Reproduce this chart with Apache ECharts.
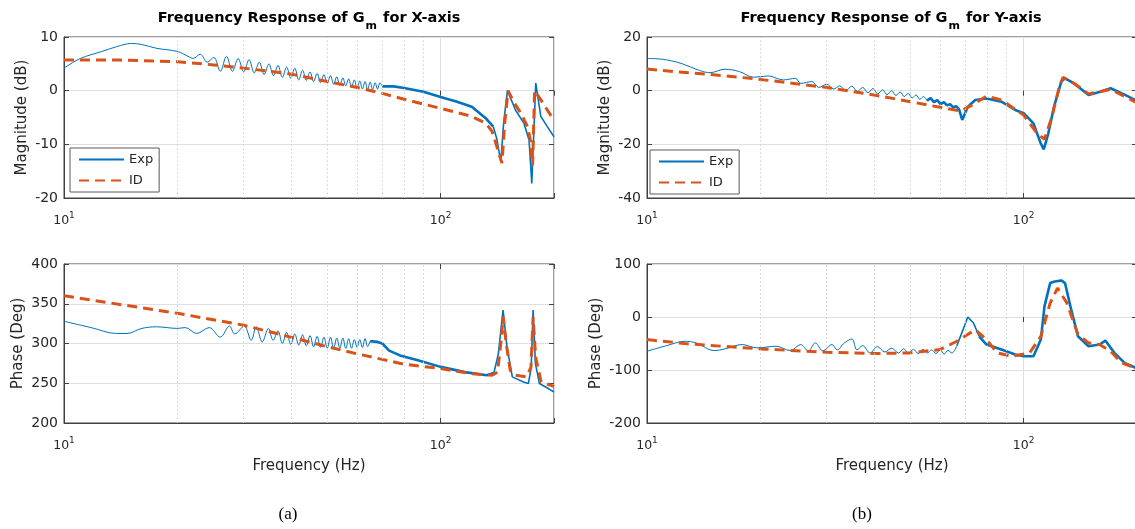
<!DOCTYPE html>
<html><head><meta charset="utf-8">
<script src="https://cdn.jsdelivr.net/npm/echarts@6/dist/echarts.min.js"></script>
<style>html,body{margin:0;padding:0;background:#fff}#c{width:1135px;height:529px}</style>
</head><body><div id="c"></div>
<script>
// ===== X-axis magnitude (dB) =====
// Exp: low-frequency part (thin, oscillating)
const expMagX_f = [10, 11.05, 12.6, 13.8, 15.1, 16.1, 17.6, 20, 21.5, 22, 23, 24, 25, 26, 27, 28, 29, 30, 31, 32, 33, 34, 35, 36, 37, 38, 39, 40, 41, 42, 43, 44, 45, 46, 47, 48, 49, 50, 51, 52, 53, 54, 55, 56, 57, 58, 59, 60, 61, 62, 63, 64, 65, 66, 67, 68, 69, 70];
const expMagX_v = [4.2, 6.0, 7.3, 8.2, 8.8, 8.6, 7.9, 7.3, 6.3, 6.0, 6.8, 5.3, 6.2, 3.6, 6.4, 3.6, 6.0, 3.5, 5.8, 3.3, 5.3, 3.0, 5.0, 2.8, 4.7, 2.5, 4.4, 2.3, 4.2, 2.0, 3.8, 1.9, 3.5, 1.7, 3.2, 1.5, 3.0, 1.4, 2.8, 1.2, 2.6, 1.0, 2.4, 0.9, 2.2, 0.6, 2.0, 0.4, 1.8, 0.3, 1.7, 0.2, 1.6, 0.2, 1.5, 0.3, 1.5, 0.8];
// Exp: noisy band
const expMagXb_f = [70, 75, 80, 90, 100, 110, 121, 132, 138];
const expMagXb_v = [0.8, 0.8, 0.5, -0.2, -1.2, -2.0, -3.0, -5.2, -6.7];
// Exp: resonances
const expMagXr_f = [138, 141, 143, 144.5, 147, 150.5, 158, 166.5, 171.7, 174.6, 178.9, 184.5, 192, 200];
const expMagXr_v = [-6.7, -9.0, -11.5, -13.2, -6.0, 0.0, -3.6, -6.1, -9.2, -17.3, 1.4, -4.8, -6.7, -8.6];
// ID
const idMagX_f = [10, 14.1, 20, 25, 30, 40, 50, 60, 70, 80, 100, 121, 132, 137, 141, 145.5, 148, 151, 157.3, 163.3, 170.1, 173.1, 175.5, 177.6, 184.5, 192, 200];
const idMagX_v = [5.7, 5.7, 5.4, 4.8, 4.2, 3.1, 1.7, 0.6, -0.5, -1.6, -3.3, -4.8, -6.1, -7.6, -10.4, -13.5, -6, 0, -2.4, -4.2, -6.7, -9.2, -13.9, 0, -1.7, -3.6, -5.5];

// ===== X-axis phase (deg) =====
const expPhX_f = [10, 11.8, 13.8, 14.7, 16.1, 17.6, 20, 21, 22.5, 24.3, 26, 27.5, 28.4, 30.1, 31.4, 32.4, 33.6, 34.9, 35.9, 37, 38, 39, 40, 41, 42, 43, 44, 45, 46, 47, 48, 49, 50, 51, 52, 53, 54, 55, 56, 57, 58, 59, 60, 61, 62, 63, 64, 65];
const expPhX_v = [328, 320, 312.6, 312.6, 319, 321, 319, 320, 312.6, 320, 308, 322, 312, 322, 304, 321, 302, 319, 304, 316, 300, 314, 299, 312, 298, 311, 297, 310, 296, 309, 295, 308, 294, 308, 294, 307, 294, 307, 294, 306, 294, 305, 295, 305, 295, 306, 296, 303];
const expPhXb_f = [65, 68, 70, 73, 78, 87, 100, 116, 132.5, 138.5];
const expPhXb_v = [303, 302, 300, 291, 285, 279, 270.6, 264, 260, 263];
const expPhXr_f = [138.5, 142.3, 146.5, 150, 155, 166, 171, 174, 176, 178.5, 183, 193.6, 200];
const expPhXr_v = [263, 287, 342, 296, 258, 251.7, 249.6, 270, 342, 275, 249.6, 243, 239];
const idPhX_f = [10, 20, 30, 40, 50, 60, 70, 80, 100, 121, 137, 141.6, 144.8, 146.5, 149.3, 153.1, 158, 169, 173.7, 176, 178.8, 184.9, 200];
const idPhX_v = [360, 338, 323, 308, 296, 287, 280, 274, 268.5, 262, 260, 264, 304, 334, 300, 266, 260, 258, 270, 333.6, 283, 251.7, 246];

// ===== Y-axis magnitude (dB) =====
const expMagY_f = [10, 11.0, 12.3, 13.8, 14.7, 16.1, 17.6, 19.2, 21.0, 23.0, 24.8, 25.6, 27.4, 28.6, 30, 31.3, 32.5, 33.7, 35.0, 36.2, 37.4, 38.6, 39.8, 41, 42.2, 43.4, 44.6, 45.8, 47, 48.2, 49.4, 50.6, 51.8, 53, 54.2, 55.4];
const expMagY_v = [12.0, 11.7, 10.2, 7.5, 6.7, 8.0, 7.1, 5.0, 5.5, 4.0, 4.6, 2.7, 3.4, 1.2, 2.4, 0.6, 1.8, 0.0, 1.7, -0.3, 1.2, -0.8, 0.8, -1.2, 0.3, -1.5, 0.0, -1.8, -0.5, -2.2, -1.0, -2.7, -1.6, -3.2, -2.2, -3.7];
const expMagYb_f = [55.4, 56.6, 57.8, 59, 60.2, 61.4, 62.6, 63.8, 65, 66.2, 67.4, 68.7, 71.1, 74.4, 79.7, 87.3, 95, 100, 106.2, 111, 113.1, 116.3, 120.4, 125.9, 128.8, 136.2, 148.7, 159, 170.2, 185.3, 200];
const expMagYb_v = [-3.7, -2.8, -4.3, -3.5, -5.0, -4.3, -5.5, -5.0, -6.2, -5.8, -7.0, -10.9, -6.0, -3.5, -2.9, -4.1, -7.2, -8.4, -12.2, -19.6, -21.9, -15.9, -6.0, 3.4, 4.6, 2.7, -1.6, -0.5, 0.9, -1.5, -3.8];
const expMagYr_f = [];
const expMagYr_v = [];
const idMagY_f = [10, 11.8, 14.4, 20, 30, 40, 50, 60, 68.2, 74.4, 79.7, 87.3, 100, 108.6, 113.6, 118.9, 124.4, 127.3, 136.2, 148.7, 159.2, 170.2, 182, 200];
const idMagY_v = [8.1, 7.1, 6.2, 4.2, 1.2, -1.6, -4.1, -6.2, -7.6, -4.7, -2.0, -3.5, -9.1, -15.9, -18.1, -9.7, 1.5, 5.0, 2.7, -1.2, -0.4, 0.5, -1.6, -4.5];

// ===== Y-axis phase (deg) =====
const expPhY_f = [10, 11.3, 12.6, 13.5, 15.1, 16.1, 17.9, 19.6, 22, 24.0, 25.6, 26.8, 28.0, 29.3, 31.0, 32.0, 33.4, 35.0, 36.1, 37.4, 39.1, 40.9, 42.8, 44.6, 46.6, 48, 49.5, 51, 52.5, 54, 55.5, 57, 58.5, 60, 61.5, 63, 64.5, 66.5];
const expPhY_v = [-64.6, -53.9, -45.8, -48.9, -63.3, -60.2, -52.0, -58.3, -55.2, -63.3, -52, -64, -48.9, -64, -52, -62, -49, -41.4, -62, -54, -68, -56, -66, -59, -68, -60, -68, -61, -69, -61, -68, -62, -69, -62, -70, -63, -68, -54];
const expPhYr_f = [66.5, 69.6, 71.1, 73.6, 76.2];
const expPhYr_v = [-54, -17.6, 0, -11.3, -36.4];
const expPhYb_f = [76.2, 79.7, 87.3, 95, 100, 106.2, 111.1, 113.6, 117.6, 121, 125.9, 128.8, 133.1, 139.4, 148.7, 159.2, 164.8, 174.2, 185.3, 200];
const expPhYb_v = [-36.4, -52, -61.4, -70.8, -74, -74, -42.6, 20, 64, 67, 69, 64, 20, -36.4, -55.2, -52, -44.5, -67.7, -86.5, -97];
const idPhY_f = [10, 12.6, 20, 30, 40, 50, 60, 66.5, 74.4, 79.7, 85.1, 93.1, 103.8, 111.1, 117.6, 123, 130.3, 139.4, 148.7, 159.2, 170.2, 182, 200];
const idPhY_v = [-42.6, -50.2, -60.2, -66.5, -69, -67.7, -61.4, -45.8, -23.8, -42.6, -67.7, -74, -67.7, -36.4, 26.3, 54.5, 26.3, -33.2, -48.9, -52.0, -64.6, -86.5, -97];

// ===== axes / labels =====
const minorFreqs = [20, 30, 40, 50, 60, 70, 80, 90];
const yRanges = [[-20, 10, 10], [-40, 20, 20], [200, 400, 50], [-200, 100, 100]];
const yNames = ['Magnitude (dB)', 'Magnitude (dB)', 'Phase (Deg)', 'Phase (Deg)'];
const xName = 'Frequency (Hz)';
const titlesText = ['X-axis', 'Y-axis'];
const panelTags = ['(a)', '(b)'];
const legendNames = ['Exp', 'ID'];

const FONT = '"DejaVu Sans", "Liberation Sans", Arial, sans-serif';
const TXT = '#262626';
const AX = '#404040';
const GRIDC = '#e0e0e0';
const BLUE = '#0072BD';
const ORANGE = '#D95319';

const pairs = (f, v) => f.map((x, i) => [x, v[i]]);

const gridPos = [
  {left: 64, top: 37, width: 490, height: 161},
  {left: 647, top: 37, width: 490, height: 161},
  {left: 64, top: 264, width: 490, height: 159},
  {left: 647, top: 264, width: 490, height: 159}
];
const yNameGap = [34, 34, 38, 43];

const grids = gridPos.map(g => Object.assign({show: true, borderColor: AX, borderWidth: 1, backgroundColor: '#fff', containLabel: false, outerBoundsMode: 'none'}, g));

const tickFmt = v => {
  const e = Math.log10(v);
  if (Math.abs(e - Math.round(e)) < 1e-6) return '{b|10}{s|' + Math.round(e) + '}';
  return '';
};

const xAxes = gridPos.map((g, i) => ({
  type: 'log', logBase: 10, min: 10, max: 200, gridIndex: i, position: 'bottom',
  axisLine: {show: true, onZero: false, lineStyle: {color: AX, width: 1}},
  axisTick: {show: true, inside: true, length: 5, lineStyle: {color: AX}},
  axisLabel: {
    margin: 13, color: TXT, fontFamily: FONT, formatter: tickFmt,
    rich: {
      b: {fontSize: 12.5, color: TXT, fontFamily: FONT},
      s: {fontSize: 9, color: TXT, fontFamily: FONT, padding: [0, 0, 10, 0]}
    }
  },
  splitLine: {show: true, lineStyle: {color: GRIDC, width: 1}},
  name: i >= 2 ? xName : '',
  nameLocation: 'middle', nameGap: 36,
  nameTextStyle: {fontSize: 15, color: TXT, fontFamily: FONT}
}));
// mirrored top axes (box ticks)
gridPos.forEach((g, i) => xAxes.push({
  type: 'log', logBase: 10, min: 10, max: 200, gridIndex: i, position: 'top',
  axisLine: {show: false}, axisLabel: {show: false}, splitLine: {show: false},
  axisTick: {show: true, inside: true, length: 5, lineStyle: {color: AX}}
}));

const yAxes = gridPos.map((g, i) => ({
  type: 'value', gridIndex: i, position: 'left',
  min: yRanges[i][0], max: yRanges[i][1], interval: yRanges[i][2],
  axisLine: {show: true, onZero: false, lineStyle: {color: AX, width: 1}},
  axisTick: {show: true, inside: true, length: 5, lineStyle: {color: AX}},
  axisLabel: {fontSize: 14, color: TXT, fontFamily: FONT, margin: 6},
  splitLine: {show: true, lineStyle: {color: GRIDC, width: 1}},
  name: yNames[i], nameLocation: 'middle', nameGap: yNameGap[i],
  nameTextStyle: {fontSize: 15, color: TXT, fontFamily: FONT}
}));
gridPos.forEach((g, i) => yAxes.push({
  type: 'value', gridIndex: i, position: 'right',
  min: yRanges[i][0], max: yRanges[i][1], interval: yRanges[i][2],
  axisLine: {show: false}, axisLabel: {show: false}, splitLine: {show: false},
  axisTick: {show: true, inside: true, length: 5, lineStyle: {color: AX}}
}));

const sets = [
  {thin: pairs(expMagX_f, expMagX_v), band: pairs(expMagXb_f, expMagXb_v), res: pairs(expMagXr_f, expMagXr_v), id: pairs(idMagX_f, idMagX_v)},
  {thin: pairs(expMagY_f, expMagY_v), band: pairs(expMagYb_f, expMagYb_v), res: pairs(expMagYr_f, expMagYr_v), id: pairs(idMagY_f, idMagY_v)},
  {thin: pairs(expPhX_f, expPhX_v), band: pairs(expPhXb_f, expPhXb_v), res: pairs(expPhXr_f, expPhXr_v), id: pairs(idPhX_f, idPhX_v)},
  {thin: pairs(expPhY_f, expPhY_v), band: pairs(expPhYb_f, expPhYb_v), res: pairs(expPhYr_f, expPhYr_v), id: pairs(idPhY_f, idPhY_v)}
];

const series = [];
sets.forEach((s, i) => {
  series.push({
    type: 'line', name: '_grid' + i, xAxisIndex: i, yAxisIndex: i, data: [], z: 1, silent: true,
    markLine: {
      silent: true, symbol: 'none', label: {show: false}, animation: false,
      lineStyle: {color: '#cfcfcf', width: 1, type: [1.5, 2.5]},
      emphasis: {disabled: true},
      data: minorFreqs.map(f => ({xAxis: f}))
    }
  });
  const expCommon = {type: 'line', name: legendNames[0], xAxisIndex: i, yAxisIndex: i, z: 2, showSymbol: false, symbol: 'none', itemStyle: {color: BLUE}};
  series.push(Object.assign({}, expCommon, {data: s.thin, smooth: 0.35, lineStyle: {color: BLUE, width: 1}}));
  series.push(Object.assign({}, expCommon, {data: s.band, lineStyle: {color: BLUE, width: 2.6}}));
  series.push(Object.assign({}, expCommon, {data: s.res, lineStyle: {color: BLUE, width: 1.6}}));
  series.push({
    type: 'line', name: legendNames[1], xAxisIndex: i, yAxisIndex: i, data: s.id, z: 3,
    showSymbol: false, symbol: 'none', lineStyle: {color: ORANGE, width: 3, type: [10, 6]}, itemStyle: {color: ORANGE}
  });
});

const legendBase = {
  data: legendNames, orient: 'vertical', itemWidth: 45, itemHeight: 12, itemGap: 8,
  padding: [5, 6, 5, 8], borderColor: '#5a5a5a', borderWidth: 1, backgroundColor: '#fff', borderRadius: 0,
  itemStyle: {opacity: 0},
  textStyle: {fontSize: 13, color: TXT, fontFamily: FONT}, selectedMode: false
};

const titleRich = {
  b: {fontSize: 14.5, fontWeight: 'bold', fontFamily: FONT, fill: '#000'},
  s: {fontSize: 11, fontWeight: 'bold', fontFamily: FONT, fill: '#000', padding: [16, 1, 0, 1]}
};

const option = {
  animation: false,
  grid: grids,
  xAxis: xAxes,
  yAxis: yAxes,
  series: series,
  legend: [
    Object.assign({left: 70, top: 148}, legendBase),
    Object.assign({left: 650, top: 150}, legendBase)
  ],
  graphic: [
    {type: 'text', x: 309, y: 5, z: 10, style: {text: '{b|Frequency Response of G}{s|m}{b| for ' + titlesText[0] + '}', rich: titleRich, align: 'center', verticalAlign: 'top'}},
    {type: 'text', x: 891, y: 5, z: 10, style: {text: '{b|Frequency Response of G}{s|m}{b| for ' + titlesText[1] + '}', rich: titleRich, align: 'center', verticalAlign: 'top'}},
    {type: 'text', x: 288, y: 515, z: 10, style: {text: panelTags[0], font: '17px "Liberation Serif", "Times New Roman", serif', fill: '#000', align: 'center', verticalAlign: 'middle'}},
    {type: 'text', x: 862, y: 515, z: 10, style: {text: panelTags[1], font: '17px "Liberation Serif", "Times New Roman", serif', fill: '#000', align: 'center', verticalAlign: 'middle'}}
  ]
};

const chart = echarts.init(document.getElementById('c'), null, {renderer: 'canvas'});
chart.setOption(option);
</script></body></html>
